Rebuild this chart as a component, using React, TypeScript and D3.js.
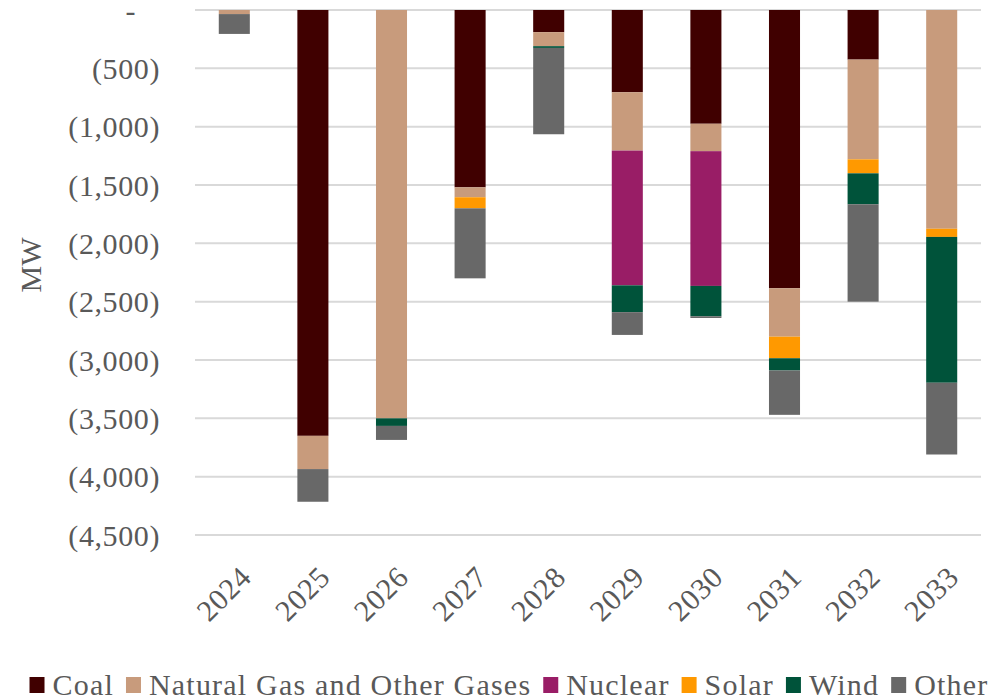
import React, { useEffect, useRef } from 'react'
import * as d3 from 'd3'

const years = ['2024', '2025', '2026', '2027', '2028', '2029', '2030', '2031', '2032', '2033']
const seriesNames = ['Coal', 'Natural Gas and Other Gases', 'Nuclear', 'Solar', 'Wind', 'Other']
const seriesColors = ['#400000', '#c89b7c', '#991d66', '#ff9900', '#00533a', '#686868']

// MW retired per year (negative = capacity leaving)
const coal = [0, -3650, 0, -1520, -190, -705, -975, -2385, -425, 0]
const gas = [-35, -285, -3500, -85, -120, -500, -235, -415, -855, -1875]
const nuclear = [0, 0, 0, 0, 0, -1155, -1155, 0, 0, 0]
const solar = [0, 0, 0, -95, 0, 0, 0, -185, -120, -70]
const wind = [0, 0, -65, 0, -15, -230, -260, -105, -265, -1250]
const other = [-170, -280, -120, -600, -740, -195, -15, -380, -835, -615]

const yTicks = [0, -500, -1000, -1500, -2000, -2500, -3000, -3500, -4000, -4500]

const FONT = '"Palatino Linotype", "Book Antiqua", Palatino, "Liberation Serif", serif'
const TEXT = '#595959'

export default function App() {
  const ref = useRef<SVGSVGElement>(null)

  useEffect(() => {
    const svg = d3.select(ref.current)
    svg.selectAll('*').remove()

    const margin = { top: 10, left: 195, right: 19, bottom: 165 }
    const width = 1000
    const height = 700

    const series = [coal, gas, nuclear, solar, wind, other]
    const rows = years.map((yr, i) => {
      const r: any = { year: yr }
      seriesNames.forEach((n, j) => { r[n] = series[j][i] })
      return r
    })

    const stacked = d3.stack<any>()
      .keys(seriesNames)
      .offset(d3.stackOffsetDiverging)(rows)

    const x = d3.scaleBand()
      .domain(years)
      .range([margin.left, width - margin.right])
      .padding(0)

    const y = d3.scaleLinear()
      .domain([-4500, 0])
      .range([height - margin.bottom, margin.top])

    const barW = x.bandwidth() * 0.395

    // gridlines
    svg.append('g')
      .selectAll('line')
      .data(yTicks)
      .enter()
      .append('line')
        .attr('x1', margin.left)
        .attr('x2', width - margin.right)
        .attr('y1', d => y(d))
        .attr('y2', d => y(d))
        .style('stroke', '#d9d9d9')
        .style('stroke-width', 2)

    // y tick labels
    svg.append('g')
      .selectAll('text')
      .data(yTicks)
      .enter()
      .append('text')
        .attr('x', d => d === 0 ? 136 : 160)
        .attr('y', d => y(d))
        .attr('dy', '0.35em')
        .attr('text-anchor', 'end')
        .style('font-family', FONT)
        .style('font-size', '30px')
        .style('letter-spacing', '0.6px')
        .style('fill', TEXT)
        .text(d => d === 0 ? '-' : `(${d3.format(',')(-d)})`)

    // axis title
    svg.append('text')
      .attr('transform', `translate(41, 265) rotate(-90)`)
      .attr('text-anchor', 'middle')
      .style('font-family', FONT)
      .style('font-size', '30px')
      .style('fill', TEXT)
      .text('MW')

    // bars
    svg.append('g')
      .selectAll('g')
      .data(stacked)
      .enter()
      .append('g')
        .style('fill', (d, i) => seriesColors[i])
      .selectAll('rect')
      .data(d => d)
      .enter()
      .append('rect')
        .attr('x', d => (x(d.data.year) as number) + (x.bandwidth() - barW) / 2)
        .attr('width', barW)
        .attr('y', d => y(Math.max(d[0], d[1])))
        .attr('height', d => Math.abs(y(d[0]) - y(d[1])))

    // x labels
    svg.append('g')
      .selectAll('text')
      .data(years)
      .enter()
      .append('text')
        .attr('transform', d => `translate(${(x(d) as number) + x.bandwidth() / 2 + 4}, 564) rotate(-45)`)
        .attr('text-anchor', 'end')
        .attr('dy', '0.7em')
        .style('font-family', FONT)
        .style('font-size', '30px')
        .style('letter-spacing', '0.6px')
        .style('fill', TEXT)
        .text(d => d)

    // legend
    const legend = svg.append('g')
    let cursor = 0
    seriesNames.forEach((name, i) => {
      const item = legend.append('g').attr('transform', `translate(${cursor}, 0)`)
      item.append('rect')
        .attr('x', 0)
        .attr('y', -18)
        .attr('width', 15)
        .attr('height', 16)
        .style('fill', seriesColors[i])
      const t = item.append('text')
        .attr('x', 23)
        .attr('y', 0)
        .style('font-family', FONT)
        .style('font-size', '30px')
        .style('letter-spacing', '1.2px')
        .style('fill', TEXT)
        .text(name)
      const w = (t.node() as SVGTextElement).getComputedTextLength()
      cursor += 23 + w + 12
    })
    const total = cursor - 12
    legend.attr('transform', `translate(${509 - total / 2}, 695)`)
  }, [])

  return (
    <div>
      <svg ref={ref} width={1000} height={700} style={{ display: 'block', marginTop: -8, marginLeft: -8 }} />
    </div>
  )
}
